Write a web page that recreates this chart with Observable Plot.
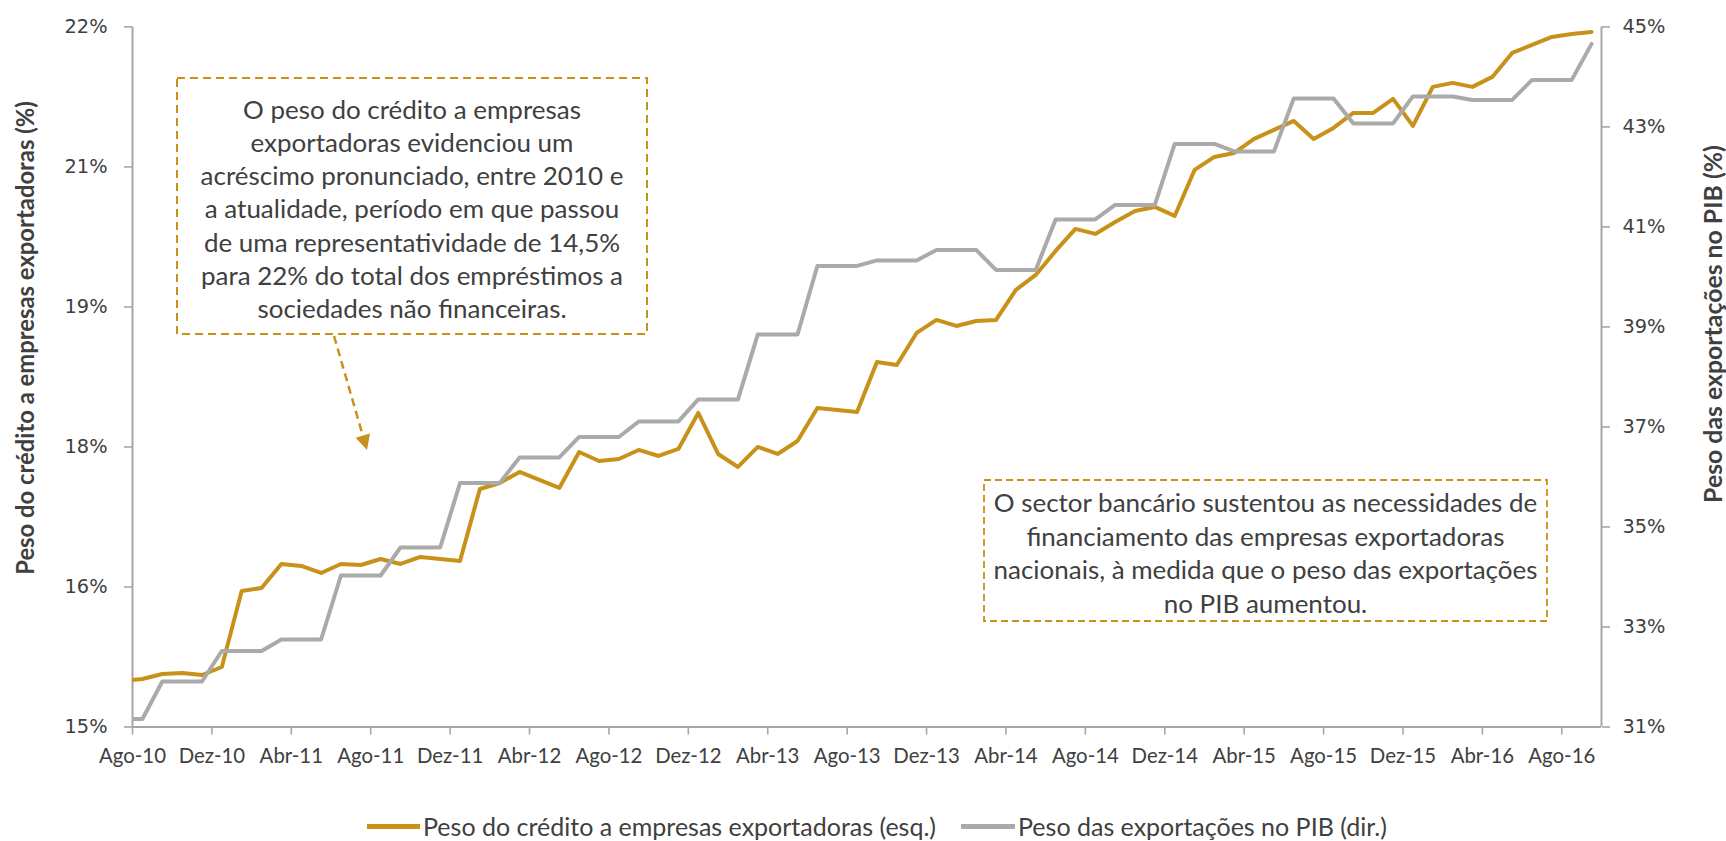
<!DOCTYPE html>
<html><head><meta charset="utf-8">
<script src="https://cdn.jsdelivr.net/npm/d3@7"></script>
<script src="https://cdn.jsdelivr.net/npm/@observablehq/plot@0.6"></script>
<style>
body{margin:0;background:#fff;}
#wrap{position:relative;width:1726px;height:841px;overflow:hidden;}
.leg{position:absolute;white-space:nowrap;color:#404040;}
.sw{position:absolute;height:5px;}
</style></head><body><div id="wrap"></div>
<script>
// ---------------- data ----------------
const ptMonths = ["Jan","Fev","Mar","Abr","Mai","Jun","Jul","Ago","Set","Out","Nov","Dez"];
// months from Jul-10 to Set-16 (Jul-10 lies just before the axis start and is clipped)
const months = [];
for (let y = 10; y <= 16; y++) for (let m = 0; m < 12; m++) {
  if ((y === 10 && m < 6) || (y === 16 && m > 8)) continue;
  months.push(ptMonths[m] + "-" + y);
}
const xTickLabels = ["Ago-10","Dez-10","Abr-11","Ago-11","Dez-11","Abr-12","Ago-12","Dez-12","Abr-13","Ago-13","Dez-13","Abr-14","Ago-14","Dez-14","Abr-15","Ago-15","Dez-15","Abr-16","Ago-16"];

// Peso do crédito a empresas exportadoras (%), left axis
const credit = [15.46,
  15.48,15.53,15.54,15.52,15.60,
  16.36,16.39,16.63,16.61,16.54,
  16.63,16.62,16.68,16.63,16.70,
  16.68,16.66,17.38,17.44,17.55,
  17.47,17.39,17.75,17.66,17.68,
  17.77,17.71,17.78,18.14,17.73,
  17.60,17.80,17.73,17.86,18.19,
  18.17,18.15,18.65,18.62,18.94,
  19.07,19.01,19.06,19.07,19.37,
  19.52,19.76,19.98,19.93,20.05,
  20.16,20.20,20.11,20.57,20.70,
  20.74,20.88,20.97,21.06,20.88,
  20.99,21.14,21.14,21.28,21.01,
  21.40,21.44,21.40,21.50,21.74,
  21.82,21.90,21.93,21.95];

// Peso das exportações no PIB (%), right axis
const exportsGDP = [31.16,
  31.16,
  31.91,31.91,31.91,
  32.52,32.52,32.52,
  32.75,32.75,32.75,
  34.03,34.03,34.03,
  34.59,34.59,34.59,
  35.88,35.88,35.88,
  36.39,36.39,36.39,
  36.80,36.80,36.80,
  37.11,37.11,37.11,
  37.55,37.55,37.55,
  38.85,38.85,38.85,
  40.22,40.22,40.22,
  40.33,40.33,40.33,
  40.54,40.54,40.54,
  40.14,40.14,40.14,
  41.15,41.15,41.15,
  41.44,41.44,41.44,
  42.66,42.66,42.66,
  42.51,42.51,42.51,
  43.57,43.57,43.57,
  43.07,43.07,43.07,
  43.61,43.61,43.61,
  43.54,43.54,43.54,
  43.94,43.94,43.94,
  44.66];

const leftTickLabels = ["15%","16%","18%","19%","21%","22%"];
const rightTickValues = [31,33,35,37,39,41,43,45];
const rightTickLabels = ["31%","33%","35%","37%","39%","41%","43%","45%"];

const leftTitle = "Peso do crédito a empresas exportadoras (%)";
const rightTitle = "Peso das exportações no PIB (%)";
const legendLabels = ["Peso do crédito a empresas exportadoras (esq.)", "Peso das exportações no PIB (dir.)"];
const note1 = ["O peso do crédito a empresas","exportadoras evidenciou um","acréscimo pronunciado, entre 2010 e","a atualidade, período em que passou","de uma representatividade de 14,5%","para 22% do total dos empréstimos a","sociedades não financeiras."];
const note2 = ["O sector bancário sustentou as necessidades de","financiamento das empresas exportadoras","nacionais, à medida que o peso das exportações","no PIB aumentou."];

// ---------------- styles ----------------
const gold = "#C8911A", grey = "#AAAAAA", axisCol = "#A6A6A6", textCol = "#404040";
const lato = "Lato, 'Open Sans', sans-serif";
const dejavu = "'DejaVu Sans', Verdana, sans-serif";
const ctx = document.createElement("canvas").getContext("2d");
const fit = (text, family, weight, target) => { ctx.font = `${weight} 100px ${family}`; return 100 * target / ctx.measureText(text).width; };

const xFont = fit("Ago-10", lato, 400, 67);
const yFont = fit("22%", dejavu, 400, 43);
const titleFontL = fit(leftTitle, lato, 700, 474);
const titleFontR = fit(rightTitle, lato, 700, 358);
const legFont = fit(legendLabels[0], lato, 400, 513);
const noteFont = (fit(note1[2], lato, 400, 423) + fit(note2[2], lato, 400, 544)) / 2;

// scales: left 15..22, right 31..45 mapped onto left
const lMin = 15, lMax = 22, rMin = 31, rMax = 45;
const toLeft = v => lMin + (v - rMin) * (lMax - lMin) / (rMax - rMin);
const leftTickValues = d3.range(6).map(i => lMin + i * (lMax - lMin) / 5);

const creditRows = credit.map((v, i) => ({t: i - 0.5, v, m: months[i]}));
const exportRows = exportsGDP.map((v, i) => ({t: i - 0.5, v: toLeft(v), m: months[i]}));
const xTicks = xTickLabels.map((d, i) => i * 4);

const W = 1726, H = 790;
const chart = Plot.plot({
  width: W, height: H,
  marginLeft: 132, marginRight: 125, marginTop: 26.4, marginBottom: 63.5,
  style: {fontFamily: lato, background: "#fff", overflow: "visible"},
  x: {domain: [0, months.length - 1]},
  y: {domain: [lMin, lMax]},
  marks: [
    Plot.axisY({anchor: "left", ticks: leftTickValues, tickFormat: d => leftTickLabels[leftTickValues.indexOf(d)],
      tickSize: 8, tickPadding: 17, stroke: axisCol, strokeWidth: 1.6, fill: textCol, fontSize: yFont, fontFamily: dejavu, label: null}),
    Plot.axisY({anchor: "right", ticks: rightTickValues.map(toLeft), tickFormat: (d) => rightTickLabels[rightTickValues.map(toLeft).indexOf(d)],
      tickSize: 8, tickPadding: 13, stroke: axisCol, strokeWidth: 1.6, fill: textCol, fontSize: yFont, fontFamily: dejavu, label: null}),
    Plot.axisX({ticks: xTicks, tickFormat: d => xTickLabels[d / 4], tickSize: 8, tickPadding: 14,
      stroke: axisCol, strokeWidth: 1.6, fill: textCol, fontSize: xFont, fontFamily: lato, label: null}),
    Plot.ruleX([0], {stroke: axisCol, strokeWidth: 2}),
    Plot.ruleX([months.length - 1], {stroke: axisCol, strokeWidth: 2}),
    Plot.ruleY([lMin], {stroke: axisCol, strokeWidth: 2}),
    Plot.line(creditRows, {x: "t", y: "v", stroke: gold, strokeWidth: 4, clip: true, strokeLinejoin: "round", strokeLinecap: "round"}),
    Plot.line(exportRows, {x: "t", y: "v", stroke: grey, strokeWidth: 4, clip: true, strokeLinejoin: "round", strokeLinecap: "round"})
  ]
});

const wrap = document.getElementById("wrap");
wrap.appendChild(chart);
const svg = d3.select(chart);

// axis titles
svg.append("text").attr("transform", "translate(24,338) rotate(-90)")
  .attr("text-anchor", "middle").attr("dominant-baseline", "central")
  .attr("font-family", lato).attr("font-weight", 700).attr("font-size", titleFontL).attr("fill", textCol).text(leftTitle);
svg.append("text").attr("transform", "translate(1712,324) rotate(-90)")
  .attr("text-anchor", "middle").attr("dominant-baseline", "central")
  .attr("font-family", lato).attr("font-weight", 700).attr("font-size", titleFontR).attr("fill", textCol).text(rightTitle);

// annotation boxes
function note(lines, x, y, w, h, cy0, step, dash, sw) {
  svg.append("rect").attr("x", x).attr("y", y).attr("width", w).attr("height", h)
    .attr("fill", "#fff").attr("stroke", gold).attr("stroke-width", sw).attr("stroke-dasharray", dash);
  const t = svg.append("g").attr("font-family", lato).attr("font-size", noteFont).attr("fill", textCol)
    .attr("text-anchor", "middle");
  lines.forEach((s, i) => t.append("text").attr("x", x + w / 2).attr("y", cy0 + i * step)
    .attr("dominant-baseline", "central").text(s));
}
note(note1, 177, 78, 470, 256, 108.5, 33.3, "8 5", 2);
note(note2, 984, 480, 563, 141, 502, 33.5, "7 4", 1.8);

// arrow
const a0 = [334, 336], a1 = [367, 450];
const len = Math.hypot(a1[0] - a0[0], a1[1] - a0[1]);
const u = [(a1[0] - a0[0]) / len, (a1[1] - a0[1]) / len];
const hl = 15, hw = 7.5;
const base = [a1[0] - u[0] * hl, a1[1] - u[1] * hl];
svg.append("line").attr("x1", a0[0]).attr("y1", a0[1]).attr("x2", base[0]).attr("y2", base[1])
  .attr("stroke", gold).attr("stroke-width", 2.5).attr("stroke-dasharray", "8 5");
svg.append("polygon").attr("fill", gold).attr("points", [
  a1, [base[0] - u[1] * hw, base[1] + u[0] * hw], [base[0] + u[1] * hw, base[1] - u[0] * hw]
].map(p => p.join(",")).join(" "));

// legend (below the svg)
const legY = 826;
[[367, 420, 423, gold, legendLabels[0]], [961, 1015, 1018, grey, legendLabels[1]]].forEach(([s0, s1, tx, c, lab]) => {
  const sw = document.createElement("div"); sw.className = "sw";
  Object.assign(sw.style, {left: s0 + "px", width: (s1 - s0) + "px", top: (legY - 2.5) + "px", background: c});
  wrap.appendChild(sw);
  const t = document.createElement("div"); t.className = "leg"; t.textContent = lab;
  Object.assign(t.style, {left: tx + "px", top: (legY - legFont * 0.62) + "px", fontFamily: lato, fontSize: legFont + "px", lineHeight: (legFont * 1.2) + "px"});
  wrap.appendChild(t);
});
</script></body></html>
